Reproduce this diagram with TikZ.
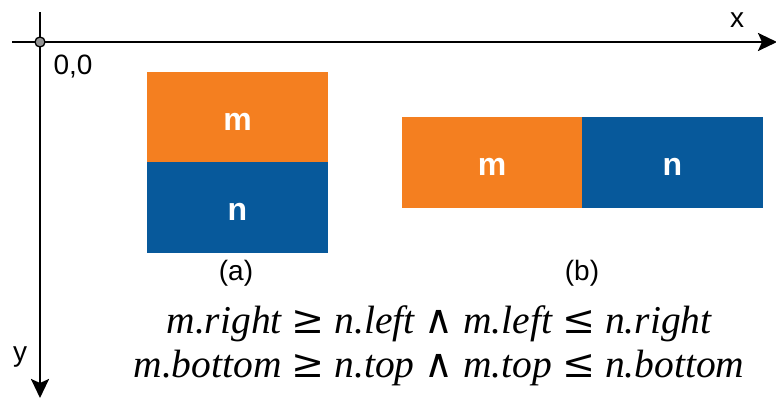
\documentclass[tikz,border=0pt]{standalone}
\usepackage{fontspec}
\setmainfont{Liberation Sans}
\newfontfamily\fmlfont{Liberation Serif}
\newfontfamily\symfont{DejaVu Serif}
\usetikzlibrary{arrows.meta}
\definecolor{morange}{HTML}{F47F20}
\definecolor{nblue}{HTML}{07599B}
\newcommand{\sy}[1]{{\symfont\upshape #1}}
\begin{document}
\begin{tikzpicture}[x=1pt,y=-1pt,
  axis/.style={line width=2.6pt,-{Stealth[length=19pt,width=18pt,inset=4pt]}},
  box/.style={minimum width=#1, inner sep=0pt, outer sep=0pt, text=white,
    text height=26pt, text depth=0pt,
    font=\fontsize{32}{36}\selectfont\bfseries, anchor=north west},
  lbl/.style={font=\fontsize{28}{30}\selectfont, inner sep=0pt},
  fml/.style={font=\fontsize{39.5}{44}\selectfont\fmlfont\itshape, inner sep=0pt}]
\useasboundingbox (0,0) rectangle (776,399);
% axes
\coordinate (xs) at (12,42);
\coordinate (xe) at (777,42);
\coordinate (ys) at (40,12);
\coordinate (ye) at (40,398);
\draw[axis] (xs) -- (xe);
\draw[axis] (ys) -- (ye);
\node[circle, draw=black, line width=1.3pt, fill=gray!85!white, minimum size=10pt, inner sep=0pt] (o) at (40,42) {};
\node[lbl] (origin) at (73,67) {0,0};
\node[lbl] (xl) at (737,20) {x};
\node[lbl] (yl) at (20,357) {y};
% (a)
\node[box=181pt, minimum height=90pt, fill=morange] (am) at (147,72) {m};
\node[box=181pt, minimum height=91pt, fill=nblue] (an) at (147,162) {n};
% (b)
\node[box=180pt, minimum height=91pt, fill=morange] (bm) at (402,117) {m};
\node[box=181pt, minimum height=91pt, fill=nblue] (bn) at (582,117) {n};
\node[lbl] (la) at (236,273) {(a)};
\node[lbl] (lb) at (582,273) {(b)};
% formulas
\node[fml] (f1) at (439,324) {m.right \sy{≥} n.left \sy{∧} m.left \sy{≤} n.right};
\node[fml] (f2) at (439,368) {m.bottom \sy{≥} n.top \sy{∧} m.top \sy{≤} n.bottom};
\end{tikzpicture}
\end{document}
